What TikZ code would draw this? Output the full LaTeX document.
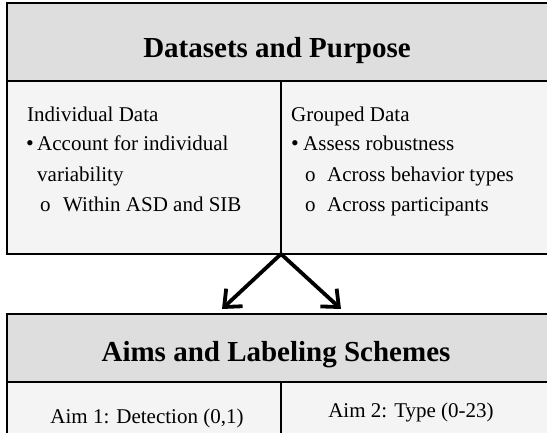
\documentclass[tikz,border=0pt]{standalone}
\usepackage{fontspec}
\setmainfont{Liberation Serif}
\usetikzlibrary{arrows.meta}
\definecolor{headgray}{RGB}{222,222,222}
\definecolor{cellgray}{RGB}{244,244,244}
\begin{document}
\begin{tikzpicture}[x=1pt,y=-1pt,
  head/.style={font=\fontsize{29}{34}\selectfont\bfseries, anchor=base, inner sep=0},
  body/.style={font=\fontsize{21}{25}\selectfont, anchor=base west, inner sep=0},
  dot/.style={font=\fontsize{22}{26}\selectfont, anchor=base west, inner sep=0},
  aim/.style={font=\fontsize{21}{25}\selectfont, anchor=base, inner sep=0},
  frame/.style={draw=black, line width=2.2pt},
  rule/.style={draw=black, line width=1.5pt},
  flow/.style={line width=3.8pt, -{Straight Barb[length=14pt,width=24pt]}}
]
\useasboundingbox (0,0) rectangle (547,433);
\clip (0,0) rectangle (547,433);

% upper panel: datasets
\fill[headgray] (7,3) rectangle (560,81);
\fill[cellgray] (7,81) rectangle (560,254);
\draw[rule] (7,81) -- (560,81);
\draw[rule] (281,81) -- (281,254);
\draw[frame] (7,3) rectangle (560,254);

\node[head] (dsTitle) at (277,58) {Datasets and Purpose};

\node[body] (indHead) at (27,122) {Individual Data};
\node[dot]  (indDot)  at (26,151) {•};
\node[body] (indL1)   at (37,151) {Account for individual};
\node[body] (indL2)   at (37,181.5) {variability};
\node[body] (indO)    at (40,212) {o};
\node[body] (indL3)   at (63,212) {Within ASD and SIB};

\node[body] (grpHead) at (291,122) {Grouped Data};
\node[dot]  (grpDot)  at (291,151) {•};
\node[body] (grpL1)   at (303,151) {Assess robustness};
\node[body] (grpO1)   at (305,181.5) {o};
\node[body] (grpL2)   at (327,181.5) {Across behavior types};
\node[body] (grpO2)   at (305,212) {o};
\node[body] (grpL3)   at (327,212) {Across participants};

% lower panel: aims
\fill[headgray] (7,314) rectangle (560,382);
\fill[cellgray] (7,382) rectangle (560,450);
\draw[rule] (7,382) -- (560,382);
\draw[rule] (281,382) -- (281,450);
\draw[frame] (7,314) rectangle (560,450);

\node[head] (aimTitle) at (276,361) {Aims and Labeling Schemes};
\node[aim] (aim1) at (147,423) {Aim 1: Detection (0,1)};
\node[aim] (aim2) at (411,417) {Aim 2: Type (0-23)};

% branching arrows
\coordinate (apex) at (281,254);
\coordinate (tipL) at (222,309);
\coordinate (tipR) at (341,309);
\draw[flow] (apex) -- (tipL);
\draw[flow] (apex) -- (tipR);
\end{tikzpicture}
\end{document}
